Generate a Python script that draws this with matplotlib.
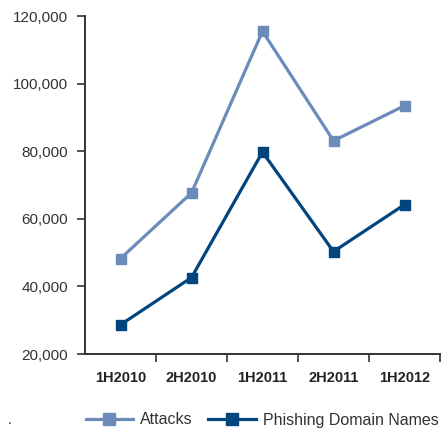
import numpy as np
import matplotlib.pyplot as plt
from matplotlib.ticker import FuncFormatter

periods = ["1H2010", "2H2010", "1H2011", "2H2011", "1H2012"]
attacks = [48244, 67677, 115472, 83083, 93462]
domains = [28646, 42624, 79753, 50298, 64204]

light = "#6b8cba"
dark = "#00457e"

plt.rcParams['font.family'] = ['Liberation Sans', 'DejaVu Sans']

fig = plt.figure(figsize=(4.42, 4.30), dpi=100)
ax = fig.add_axes([85/442, 1-354/430, 355/442, 338/430])

x = np.arange(len(periods))
ax.plot(x, attacks, "s-", color=light, lw=2.3, ms=7.5, label="Attacks")
ax.plot(x, domains, "s-", color=dark, lw=2.3, ms=7.5, label="Phishing Domain Names")

ax.set_xlim(-0.5, 4.5)
ax.set_ylim(20000, 120000)
ax.set_yticks(np.arange(20000, 120001, 20000))
ax.yaxis.set_major_formatter(FuncFormatter(lambda v, p: f"{int(v):,}"))
ax.set_xticks(x)
ax.set_xticklabels(periods, fontweight="bold", fontsize=10.5, color="#222222")
ax.set_xticks(list(x + 0.5), minor=True)
ax.tick_params(axis="x", which="major", length=0, pad=12)
ax.tick_params(axis="x", which="minor", length=6, width=1.2, color="#333333", direction="out")
ax.tick_params(axis="y", length=6, width=1.2, color="#333333", labelsize=11,
               labelcolor="#333333", pad=6)

for s in ["top", "right"]:
    ax.spines[s].set_visible(False)
for s in ["left", "bottom"]:
    ax.spines[s].set_linewidth(1.4)
    ax.spines[s].set_color("#333333")

fig.legend(loc="center", bbox_to_anchor=(262/442, 1-420/430), ncol=2, frameon=False,
           fontsize=11.5, handlelength=3.0, columnspacing=1.0, handletextpad=0.4,
           labelcolor="#333333", markerscale=1.1)
fig.text(8/442, 1-420/430, ".", fontsize=10, color="#333333", va="center")

fig.savefig("out.png", dpi=100)
